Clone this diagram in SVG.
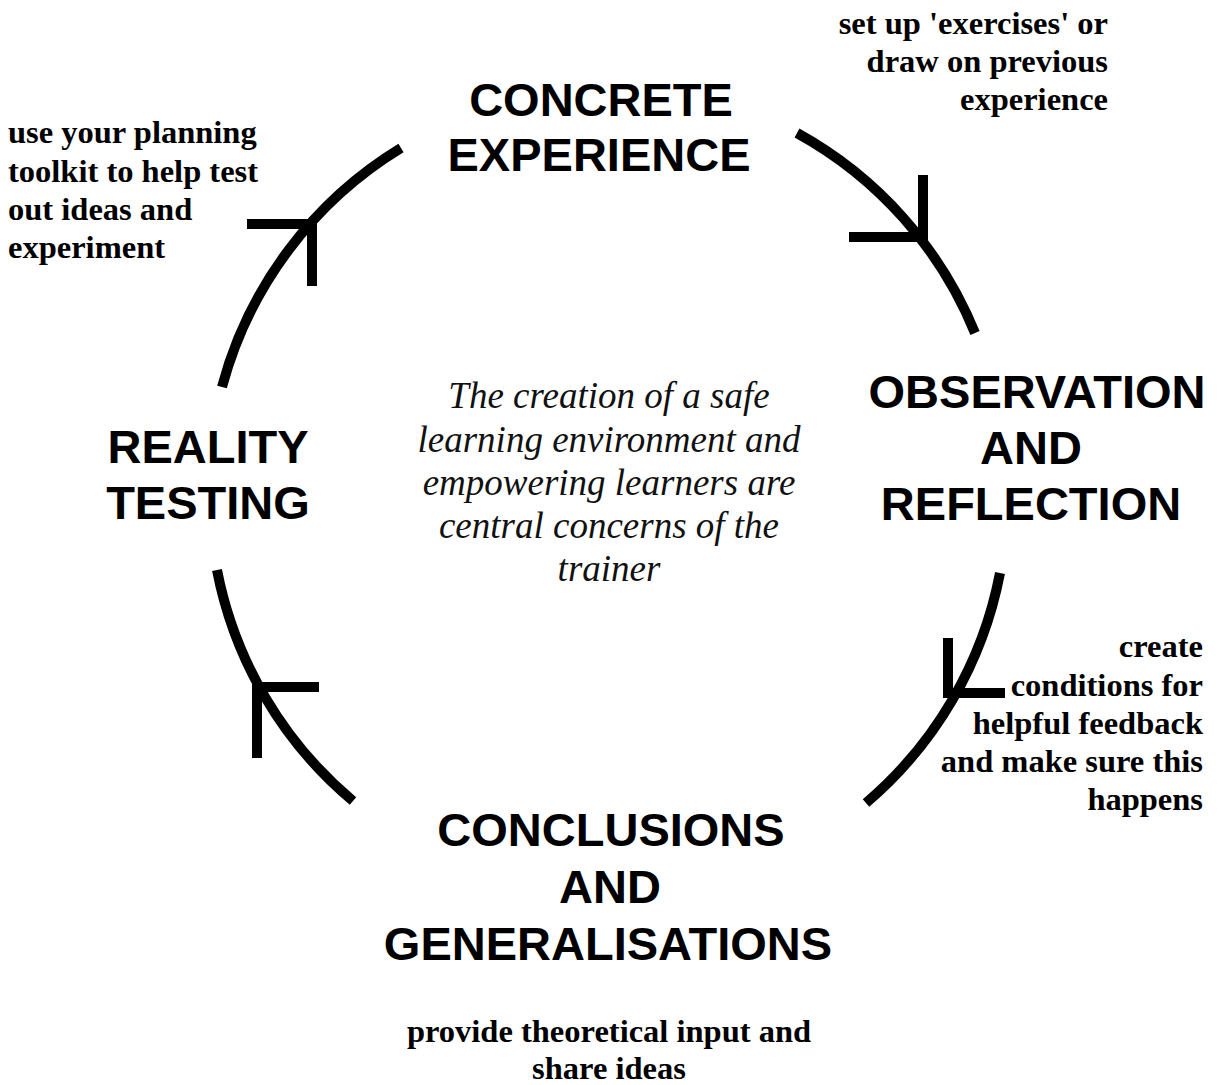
<svg xmlns="http://www.w3.org/2000/svg" width="1224" height="1085" viewBox="0 0 1224 1085">
  <style>
    .stage { font-family: "Liberation Sans", Arial, sans-serif; font-weight: bold; font-size: 47px; fill: #000; text-anchor: middle; }
    .note { font-family: "Liberation Serif", "Times New Roman", serif; font-weight: bold; font-size: 32.5px; fill: #000; }
    .centre { font-family: "Liberation Serif", "Times New Roman", serif; font-style: italic; font-size: 37px; fill: #111; text-anchor: middle; }
    .arc { fill: none; stroke: #000; stroke-width: 10; stroke-linecap: butt; }
    .tick { fill: none; stroke: #000; stroke-width: 10; stroke-linecap: butt; stroke-linejoin: miter; }
  </style>
  <rect width="1224" height="1085" fill="#fff"/>

  <!-- cycle connectors: circular arcs with corner-shaped arrowheads -->
  <g id="connectors">
    <path class="arc" d="M797 133 A401 401 0 0 1 975 333"/>
    <path class="tick" d="M849 237 H923 V175"/>
    <path class="arc" d="M1000 573 A401 401 0 0 1 866 803"/>
    <path class="tick" d="M948 638 V693 H1005"/>
    <path class="arc" d="M353 801 A401 401 0 0 1 217 570"/>
    <path class="tick" d="M319 687 H257 V758"/>
    <path class="arc" d="M222 387 A401 401 0 0 1 401 148"/>
    <path class="tick" d="M247 224 H312 V286"/>
  </g>

  <g id="concrete-experience">
    <text class="stage" x="601" y="116">CONCRETE</text>
    <text class="stage" x="599" y="171">EXPERIENCE</text>
  </g>

  <g id="observation-reflection">
    <text class="stage" x="1037" y="408">OBSERVATION</text>
    <text class="stage" x="1031" y="464">AND</text>
    <text class="stage" x="1031" y="520">REFLECTION</text>
  </g>

  <g id="conclusions-generalisations">
    <text class="stage" x="611" y="846">CONCLUSIONS</text>
    <text class="stage" x="610" y="903">AND</text>
    <text class="stage" x="608" y="960">GENERALISATIONS</text>
  </g>

  <g id="reality-testing">
    <text class="stage" x="208" y="463">REALITY</text>
    <text class="stage" x="208" y="519">TESTING</text>
  </g>

  <g id="centre-note">
    <text class="centre" x="609" y="408">The creation of a safe</text>
    <text class="centre" x="609" y="452">learning environment and</text>
    <text class="centre" x="609" y="495">empowering learners are</text>
    <text class="centre" x="609" y="538">central concerns of the</text>
    <text class="centre" x="609" y="581">trainer</text>
  </g>

  <g id="note-experience">
    <text class="note" x="1108" y="34" text-anchor="end">set up 'exercises' or</text>
    <text class="note" x="1108" y="72" text-anchor="end">draw on previous</text>
    <text class="note" x="1108" y="110" text-anchor="end">experience</text>
  </g>

  <g id="note-reflection">
    <text class="note" x="1203" y="657" text-anchor="end">create</text>
    <text class="note" x="1203" y="696" text-anchor="end">conditions for</text>
    <text class="note" x="1203" y="734" text-anchor="end">helpful feedback</text>
    <text class="note" x="1203" y="772" text-anchor="end">and make sure this</text>
    <text class="note" x="1203" y="810" text-anchor="end">happens</text>
  </g>

  <g id="note-conclusions">
    <text class="note" x="609" y="1042" text-anchor="middle">provide theoretical input and</text>
    <text class="note" x="609" y="1079" text-anchor="middle">share ideas</text>
  </g>

  <g id="note-testing">
    <text class="note" x="8" y="143">use your planning</text>
    <text class="note" x="8" y="182">toolkit to help test</text>
    <text class="note" x="8" y="220">out ideas and</text>
    <text class="note" x="8" y="258">experiment</text>
  </g>
</svg>
